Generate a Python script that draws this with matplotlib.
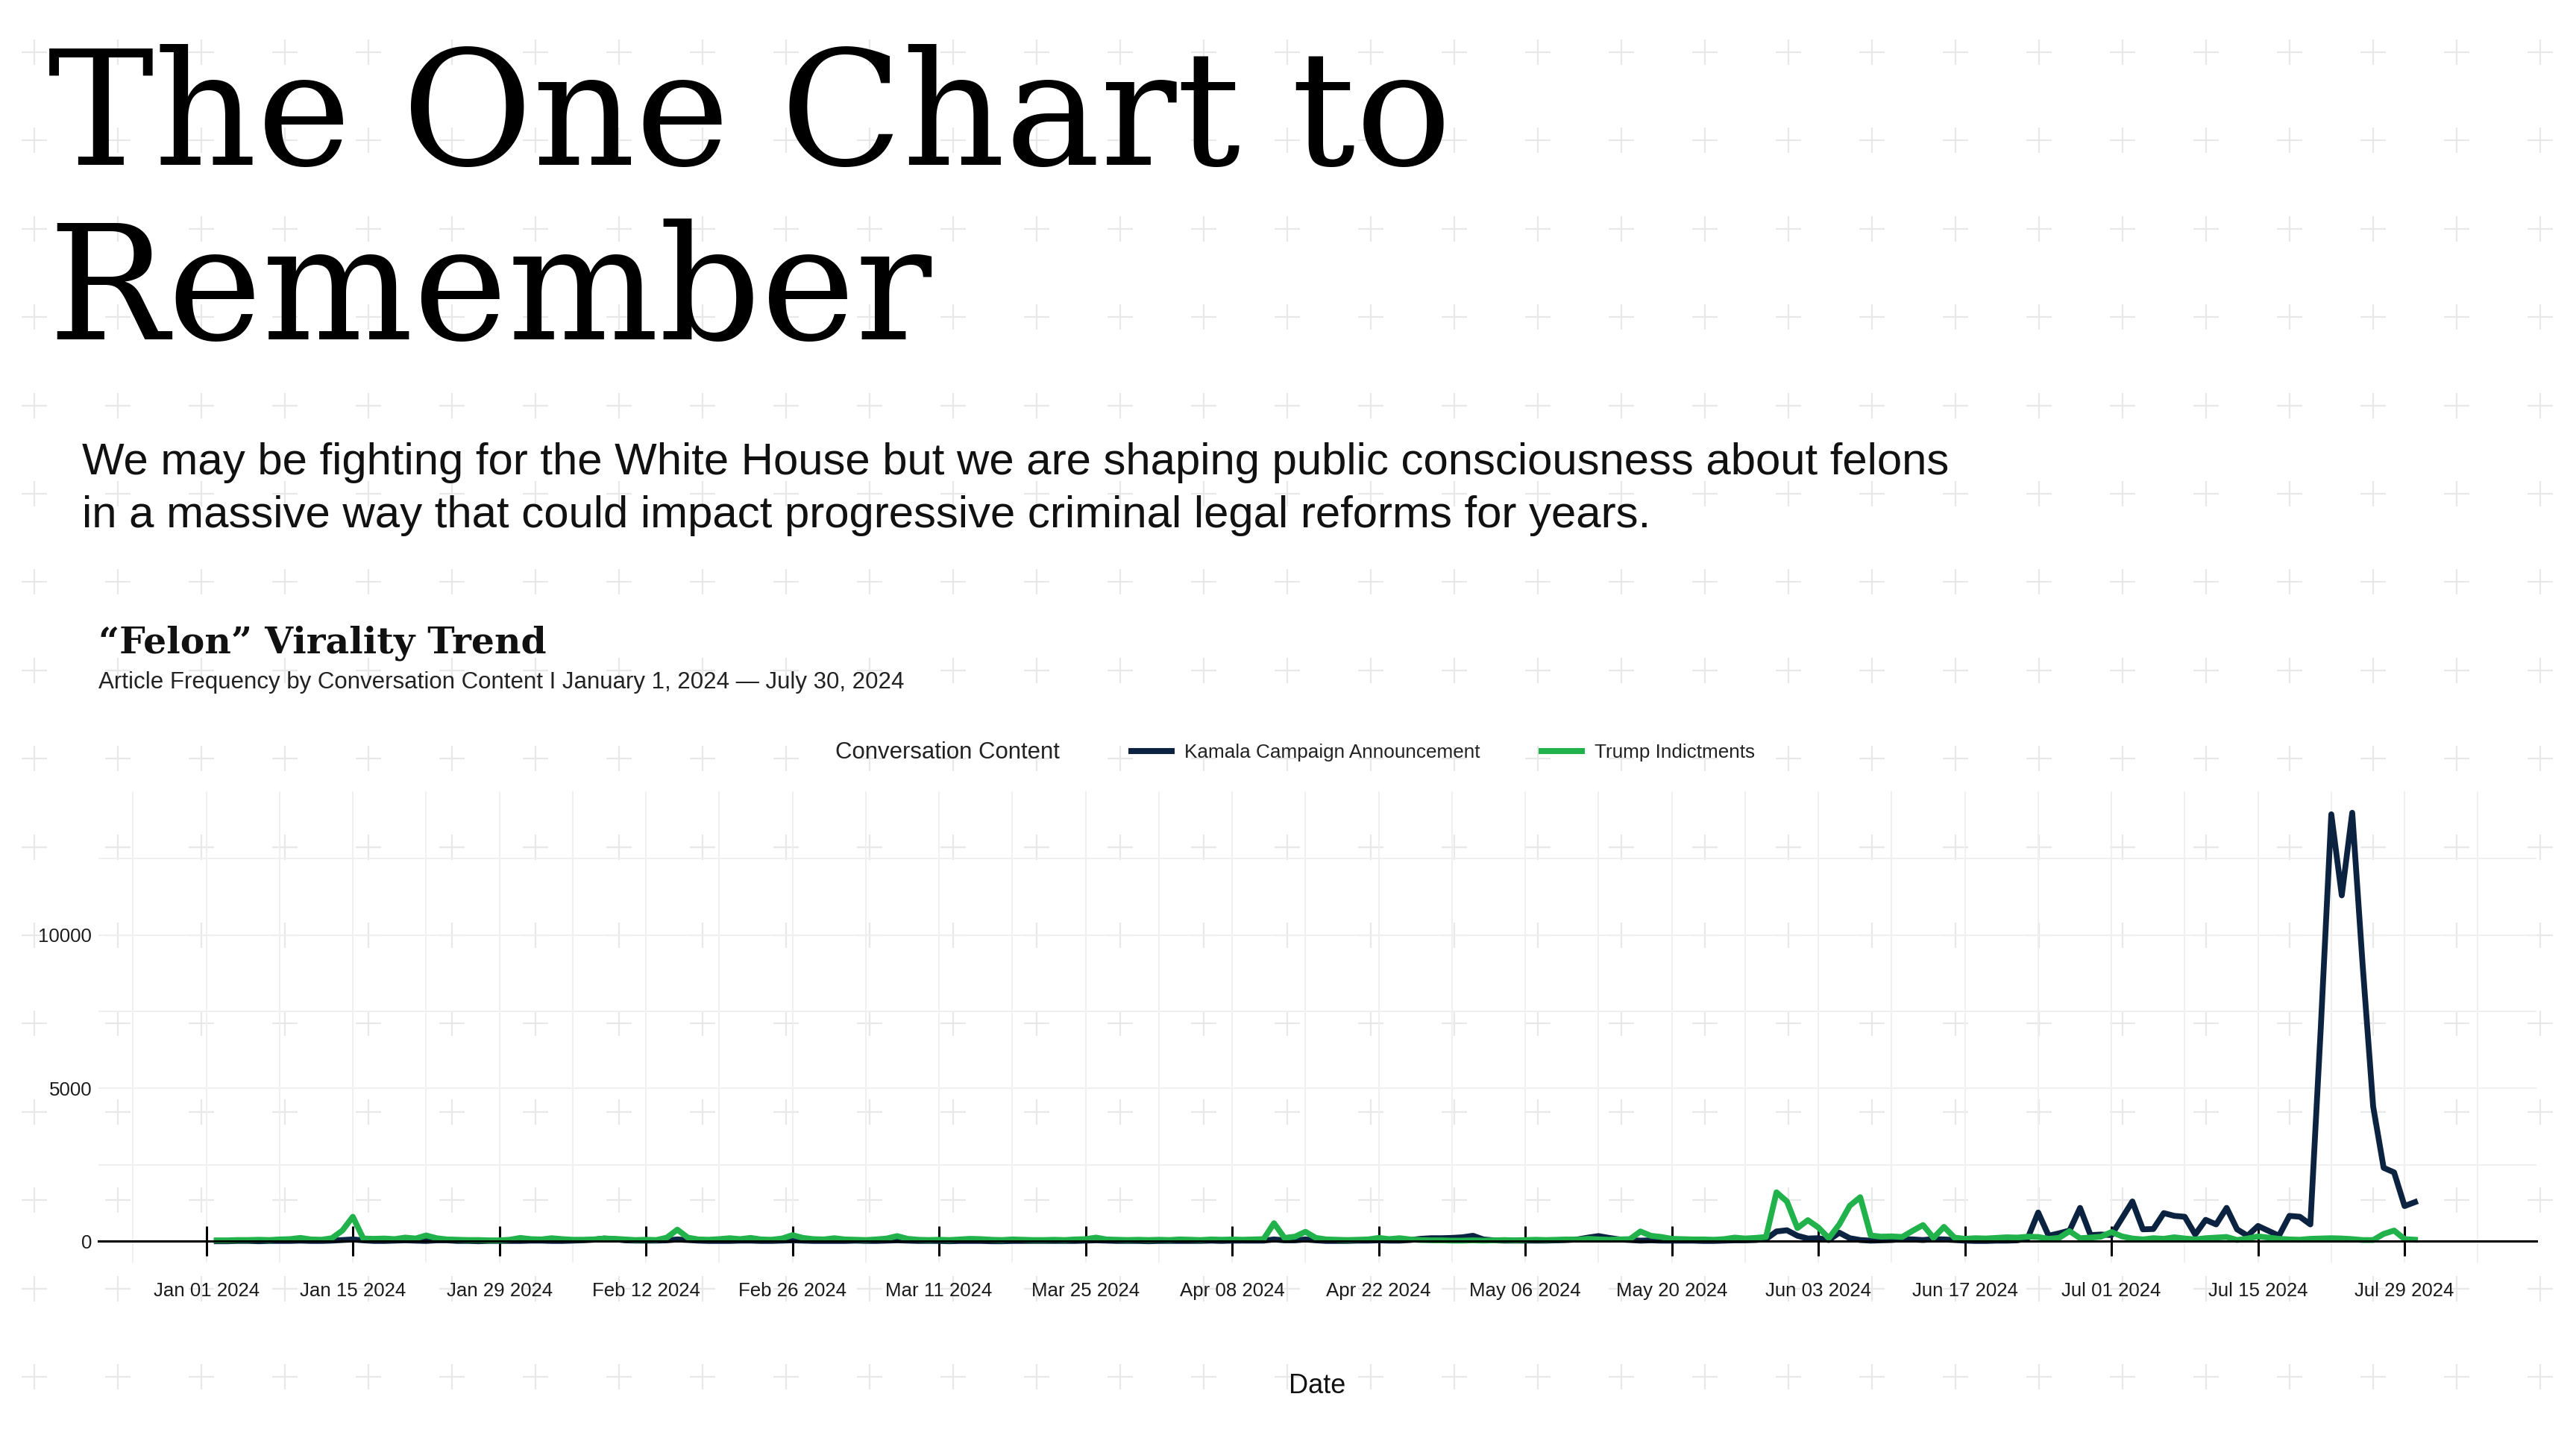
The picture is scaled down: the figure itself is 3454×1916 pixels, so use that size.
import numpy as np
import pandas as pd
import matplotlib
matplotlib.use("Agg")
import matplotlib.pyplot as plt
from matplotlib.lines import Line2D

# daily article counts, Jan 2 - Jul 30 2024 (one row per week)
start_date = "2024-01-02"
series_names = ["Kamala Campaign Announcement", "Trump Indictments"]
series_colors = ["#0b2341", "#22b24c"]

kamala = [
    0, 0, 10, 10, 0, 10, 10,
    10, 20, 10, 10, 20, 40, 60,
    30, 10, 10, 20, 30, 20, 10,
    30, 30, 10, 10, 0, 10, 10,
    10, 10, 20, 20, 10, 10, 20,
    30, 50, 90, 70, 30, 20, 20,
    20, 30, 60, 40, 20, 10, 10,
    10, 20, 20, 10, 10, 20, 30,
    20, 10, 10, 10, 10, 20, 10,
    10, 20, 30, 20, 10, 10, 10,
    0, 10, 10, 10, 0, 0, 10,
    10, 10, 10, 10, 10, 10, 20,
    30, 20, 10, 10, 10, 0, 10,
    10, 10, 10, 10, 20, 10, 20,
    20, 20, 20, 60, 30, 30, 60,
    30, 10, 10, 10, 20, 20, 30,
    20, 20, 40, 80, 100, 100, 110,
    130, 180, 60, 30, 20, 20, 20,
    20, 20, 30, 40, 60, 120, 170,
    110, 60, 40, 20, 30, 20, 20,
    20, 20, 10, 10, 20, 30, 30,
    40, 70, 320, 360, 180, 90, 100,
    40, 280, 100, 40, 20, 30, 40,
    70, 60, 40, 70, 60, 40, 20,
    10, 10, 20, 20, 30, 100, 940,
    180, 260, 350, 1090, 200, 220, 200,
    750, 1300, 390, 400, 920, 830, 800,
    220, 700, 550, 1090, 390, 180, 500,
    340, 180, 830, 800, 550, 7000, 13950,
    11300, 14000, 9000, 4400, 2400, 2250, 1150,
    1280,
]

trump = [
    30, 30, 40, 40, 50, 40, 60,
    70, 110, 60, 50, 100, 350, 800,
    90, 80, 90, 70, 120, 90, 190,
    100, 60, 50, 40, 40, 30, 30,
    50, 110, 70, 60, 100, 70, 50,
    50, 60, 90, 80, 60, 40, 50,
    40, 120, 380, 120, 60, 50, 70,
    100, 70, 110, 60, 50, 90, 200,
    110, 70, 60, 100, 60, 50, 40,
    60, 90, 170, 80, 50, 40, 50,
    40, 60, 80, 70, 50, 40, 60,
    50, 40, 40, 50, 40, 60, 70,
    120, 60, 50, 40, 50, 40, 50,
    40, 60, 50, 40, 60, 50, 60,
    50, 60, 70, 590, 110, 150, 310,
    110, 60, 50, 40, 50, 60, 110,
    70, 100, 60, 40, 30, 30, 20,
    20, 30, 20, 30, 40, 30, 40,
    50, 40, 50, 60, 50, 80, 60,
    50, 60, 70, 320, 180, 140, 80,
    70, 60, 60, 50, 70, 120, 90,
    110, 140, 1600, 1300, 430, 690, 450,
    100, 550, 1160, 1440, 190, 150, 160,
    140, 340, 530, 110, 470, 120, 80,
    100, 90, 110, 130, 120, 150, 140,
    80, 110, 330, 100, 120, 150, 300,
    160, 90, 60, 100, 80, 130, 90,
    60, 100, 120, 140, 40, 90, 160,
    120, 80, 60, 50, 80, 90, 100,
    90, 70, 40, 40, 240, 350, 70,
    50,
]

y_major = [0, 5000, 10000]
y_minor = [2500, 7500, 12500]

title_lines = ["The One Chart to", "Remember"]
intro_lines = [
    "We may be fighting for the White House but we are shaping public consciousness about felons",
    "in a massive way that could impact progressive criminal legal reforms for years.",
]
chart_title = "\u201cFelon\u201d Virality Trend"
chart_subtitle = "Article Frequency by Conversation Content I January 1, 2024 \u2014 July 30, 2024"
legend_title = "Conversation Content"

W, H = 3454, 1916
DPI = 200
SANS = "Liberation Sans"


def fx(px):
    return px / W


def fy(py):
    return 1 - py / H


fig = plt.figure(figsize=(W / DPI, H / DPI), dpi=DPI, facecolor="white")

# faint "+" pattern behind everything
bg = fig.add_axes([0, 0, 1, 1], zorder=-10)
bg.set_xlim(0, W)
bg.set_ylim(H, 0)
bg.axis("off")
gx, gy = np.meshgrid(np.arange(46, W, 112), np.arange(70, H, 118.4))
bg.plot(gx.ravel(), gy.ravel(), linestyle="none", marker="+", markersize=12,
        markeredgewidth=0.8, color="#e8e8e8")

# headline + intro
for i, line in enumerate(title_lines):
    fig.text(fx(64), fy(221 + 234 * i), line, fontsize=77, family="DejaVu Serif",
             va="baseline", color="black")
for i, line in enumerate(intro_lines):
    fig.text(fx(110), fy(636 + 71 * i), line, fontsize=21.6, family=SANS,
             va="baseline", color="#111111")

fig.text(fx(132), fy(875), chart_title, fontsize=17.6, family="DejaVu Serif",
         weight="bold", va="baseline", color="#111111")
fig.text(fx(132), fy(923), chart_subtitle, fontsize=11.25, family=SANS,
         va="baseline", color="#222222")

# legend row
fig.text(fx(1120), fy(1017), legend_title, fontsize=11.2, family=SANS,
         va="baseline", color="#222222")
legend_x = [1517, 2067]
for name, color, lx in zip(series_names, series_colors, legend_x):
    fig.add_artist(Line2D([fx(lx), fx(lx + 54)], [fy(1007), fy(1007)],
                          color=color, lw=2.9, transform=fig.transFigure))
    fig.text(fx(lx + 71), fy(1016), name, fontsize=9.4, family=SANS,
             va="baseline", color="#222222")

# chart
ax = fig.add_axes([fx(132), fy(1693), fx(3401) - fx(132), (1693 - 1061) / H])
ax.set_facecolor("none")

dates = pd.date_range(start_date, periods=len(kamala), freq="D")
for values, color in zip([kamala, trump], series_colors):
    ax.plot(dates, values, color=color, lw=2.8)

t0 = pd.Timestamp("2024-01-01")
ax.set_xlim(t0 - pd.Timedelta(days=10.3), t0 + pd.Timedelta(days=222.6))
ax.set_ylim(-700, 14700)

x_major = pd.date_range("2024-01-01", "2024-07-29", freq="14D")
x_minor = pd.date_range("2023-12-25", "2024-08-05", freq="14D")
ax.set_xticks(x_major)
ax.set_xticklabels([d.strftime("%b %d %Y") for d in x_major])
ax.set_xticks(x_minor, minor=True)
ax.set_yticks(y_major)
ax.set_yticklabels([str(v) for v in y_major])
ax.set_yticks(y_minor, minor=True)

ax.grid(which="both", color="#f0f0f0", lw=0.7)
ax.set_axisbelow(True)

for side in ["left", "right", "top"]:
    ax.spines[side].set_visible(False)
ax.spines["bottom"].set_position(("data", 0))
ax.spines["bottom"].set_linewidth(1.1)
ax.spines["bottom"].set_color("black")

ax.tick_params(axis="x", which="major", direction="inout", length=14.4, width=1.1,
               color="black", pad=12.6, labelsize=9.3, labelcolor="#1a1a1a")
ax.tick_params(axis="x", which="minor", length=0)
ax.tick_params(axis="y", which="both", length=0, pad=3.2, labelsize=9.3,
               labelcolor="#1a1a1a")
for lab in ax.get_xticklabels() + ax.get_yticklabels():
    lab.set_family(SANS)

fig.text(fx(1766), fy(1868), "Date", ha="center", va="baseline", fontsize=13,
         family=SANS, color="#111111")

fig.savefig("out.png", dpi=DPI, facecolor="white")
